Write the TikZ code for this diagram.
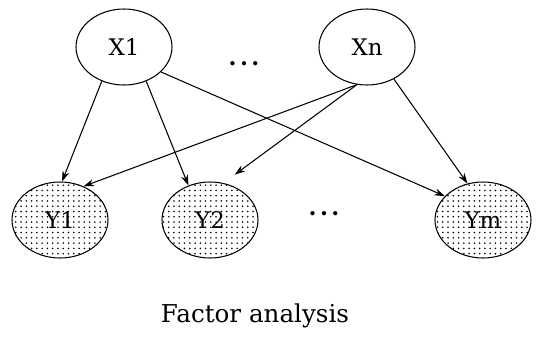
\documentclass[tikz,border=0pt]{standalone}
\usepackage{fontspec}
\setmainfont{DejaVu Serif}
\usetikzlibrary{shapes.geometric,patterns,arrows.meta}
\begin{document}
\begin{tikzpicture}[x=0.02cm,y=-0.02cm,
  txt/.style={font=\fontsize{13}{15}\selectfont},
  var/.style={ellipse,draw,semithick,minimum width=1.92cm,minimum height=1.52cm,inner sep=0pt,txt},
  obs/.style={var,pattern=dots,pattern color=black},
  arr/.style={-{Stealth[length=6pt,width=4pt]},semithick}]
\useasboundingbox (0,0) rectangle (552,338);
\node[var] (X1) at (124,47) {X1};
\node[var] (Xn) at (367,47) {Xn};
\node[obs] (Y1) at (60,220) {Y1};
\node[obs] (Y2) at (210,220) {Y2};
\node[obs] (Ym) at (483,220) {Ym};
\node[txt] (dtop) at (244,64) {\textbf{.\hspace{2pt}.\hspace{2pt}.}};
\node[txt] (dbot) at (324,214) {\textbf{.\hspace{2pt}.\hspace{2pt}.}};
\node[font=\fontsize{14}{16}\selectfont] (cap) at (255,316) {Factor analysis};
\draw[arr] (X1.237) -- (Y1.87);
\draw[arr] (X1.303) -- (Y2.122);
\draw[arr] (X1.326) -- (Ym.148);
\draw[arr] (Xn.255) -- (Y1.55);
\draw[arr,shorten >=8pt] (Xn.255) -- (Y2.70);
\draw[arr] (Xn.310) -- (Ym.113);
\end{tikzpicture}
\end{document}
